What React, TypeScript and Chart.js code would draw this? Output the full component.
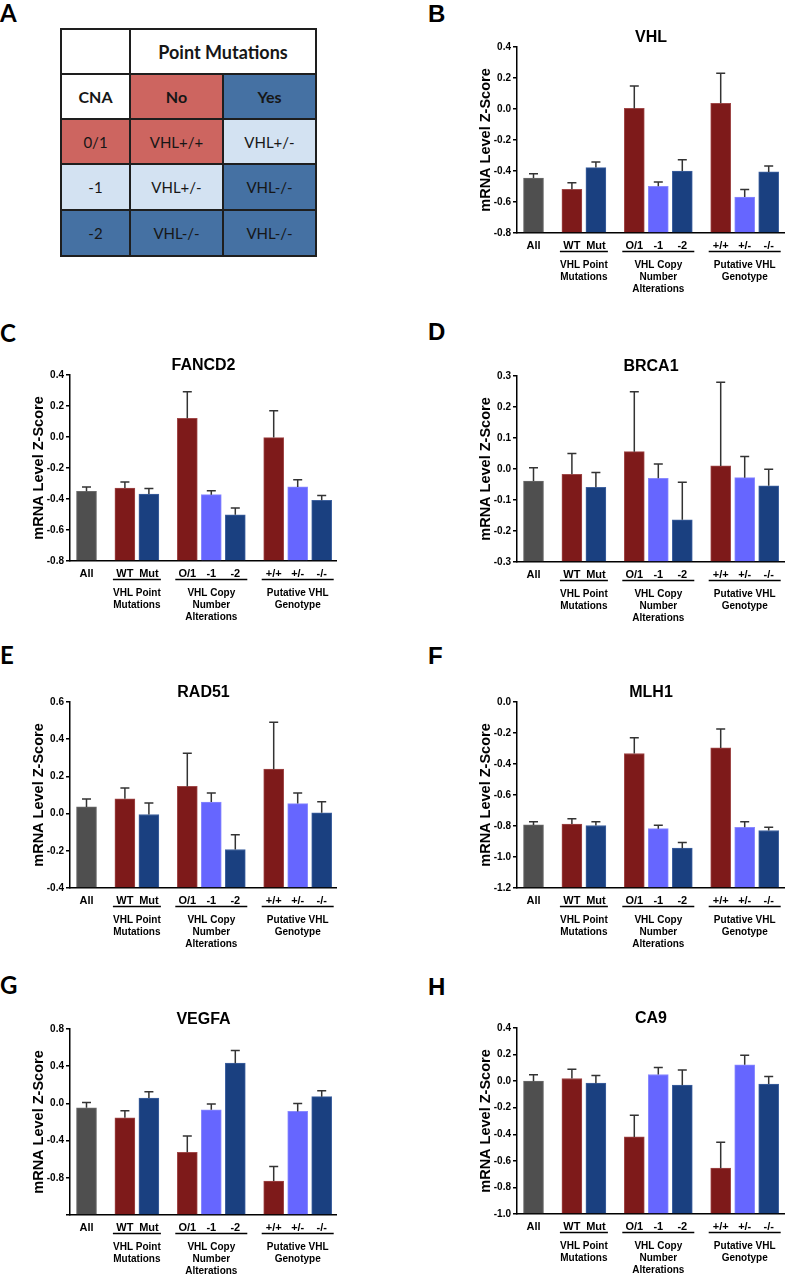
import React, { useEffect, useRef } from 'react';
import { Chart, registerables } from 'chart.js';

Chart.register(...registerables);

const FONT = "'Liberation Sans', Arial, Helvetica, sans-serif";
const TABLE_FONT = "Lato, 'Open Sans', sans-serif";

// ---------- data ----------
const CATEGORIES = ['All', 'WT', 'Mut', 'O/1', '-1', '-2', '+/+', '+/-', '-/-'];
const CATEGORY_GROUP = [0, 1, 1, 2, 2, 2, 3, 3, 3];
const GROUP_LABELS = [[], ['VHL Point', 'Mutations'], ['VHL Copy', 'Number', 'Alterations'], ['Putative VHL', 'Genotype']];
const BAR_COLORS = ['#4f4f4f', '#7e1a1a', '#1a4080', '#7e1a1a', '#6666ff', '#1a4080', '#7e1a1a', '#6666ff', '#1a4080'];
const BAR_EDGES = ['#6a6a6a', '#a04848', '#3f62a0', '#a04848', '#8a8aff', '#3f62a0', '#a04848', '#8a8aff', '#3f62a0'];
const Y_TITLE = 'mRNA Level Z-Score';

const VHL_MEAN = [-0.445, -0.518, -0.378, 0.004, -0.499, -0.40, 0.037, -0.568, -0.406];
const VHL_ERR = [0.028, 0.043, 0.036, 0.144, 0.028, 0.073, 0.193, 0.048, 0.038];
const FANCD2_MEAN = [-0.35, -0.329, -0.368, 0.121, -0.372, -0.502, -0.004, -0.322, -0.408];
const FANCD2_ERR = [0.028, 0.039, 0.035, 0.171, 0.026, 0.044, 0.173, 0.047, 0.030];
const BRCA1_MEAN = [-0.039, -0.017, -0.059, 0.056, -0.030, -0.164, 0.010, -0.028, -0.054];
const BRCA1_ERR = [0.043, 0.067, 0.048, 0.193, 0.046, 0.121, 0.270, 0.068, 0.053];
const RAD51_MEAN = [0.036, 0.080, -0.005, 0.146, 0.062, -0.193, 0.239, 0.054, 0.004];
const RAD51_ERR = [0.043, 0.058, 0.062, 0.179, 0.049, 0.079, 0.252, 0.057, 0.060];
const MLH1_MEAN = [-0.793, -0.787, -0.797, -0.332, -0.817, -0.943, -0.296, -0.808, -0.829];
const MLH1_ERR = [0.021, 0.033, 0.025, 0.101, 0.022, 0.036, 0.122, 0.036, 0.021];
const VEGFA_MEAN = [-0.047, -0.154, 0.057, -0.526, -0.068, 0.433, -0.834, -0.086, 0.072];
const VEGFA_ERR = [0.058, 0.075, 0.068, 0.175, 0.061, 0.136, 0.156, 0.086, 0.064];
const CA9_MEAN = [0.0, 0.02, -0.015, -0.42, 0.05, -0.03, -0.655, 0.123, -0.022];
const CA9_ERR = [0.048, 0.07, 0.058, 0.163, 0.052, 0.113, 0.195, 0.072, 0.057];

const TABLE_ROWS = [
  ['', 'Point Mutations'],
  ['CNA', 'No', 'Yes'],
  ['0/1', 'VHL+/+', 'VHL+/-'],
  ['-1', 'VHL+/-', 'VHL-/-'],
  ['-2', 'VHL-/-', 'VHL-/-'],
];

// ---------- layout ----------
const RED = '#cd6560';
const BLUE = '#4571a3';
const LIGHT = '#d3e2f2';
const TABLE_COLORS = [
  ['#ffffff', '#ffffff'],
  ['#ffffff', RED, BLUE],
  [RED, RED, LIGHT],
  [LIGHT, LIGHT, BLUE],
  [BLUE, BLUE, BLUE],
];

const GROUP_GAP = 1.6;
const PX_PER_UNIT = 24;
const FIRST_OFFSET_PX = 16.5;
const LEFT = 70;
const TOP = 40;
const PLOT_H = 186;
const BOTTOM = 70;

function categoryPositions(): number[] {
  const out: number[] = [];
  let x = 0;
  CATEGORIES.forEach((_, i) => {
    if (i > 0) x += CATEGORY_GROUP[i] !== CATEGORY_GROUP[i - 1] ? GROUP_GAP : 1;
    out.push(x);
  });
  return out;
}

type Spec = {
  title: string;
  mean: number[];
  err: number[];
  min: number;
  max: number;
  step: number;
  hideMin?: boolean;
  left: number;
  plotTop: number;
  plotW: number;
};

const PANELS: Spec[] = [
  { title: 'VHL', mean: VHL_MEAN, err: VHL_ERR, min: -0.8, max: 0.4, step: 0.2, left: 447, plotTop: 47, plotW: 268 },
  { title: 'FANCD2', mean: FANCD2_MEAN, err: FANCD2_ERR, min: -0.8, max: 0.4, step: 0.2, left: 0, plotTop: 375, plotW: 267 },
  { title: 'BRCA1', mean: BRCA1_MEAN, err: BRCA1_ERR, min: -0.3, max: 0.3, step: 0.1, left: 447, plotTop: 376, plotW: 268 },
  { title: 'RAD51', mean: RAD51_MEAN, err: RAD51_ERR, min: -0.4, max: 0.6, step: 0.2, left: 0, plotTop: 702, plotW: 267 },
  { title: 'MLH1', mean: MLH1_MEAN, err: MLH1_ERR, min: -1.2, max: 0.0, step: 0.2, left: 447, plotTop: 702, plotW: 268 },
  { title: 'VEGFA', mean: VEGFA_MEAN, err: VEGFA_ERR, min: -1.2, max: 0.8, step: 0.4, hideMin: true, left: 0, plotTop: 1029, plotW: 267 },
  { title: 'CA9', mean: CA9_MEAN, err: CA9_ERR, min: -1.0, max: 0.4, step: 0.2, left: 447, plotTop: 1028, plotW: 268 },
];

const LETTERS = [
  { t: 'A', x: 0, y: 1, f: TABLE_FONT },
  { t: 'B', x: 428, y: 2, f: FONT },
  { t: 'C', x: 0, y: 321, f: TABLE_FONT },
  { t: 'D', x: 428, y: 320, f: FONT },
  { t: 'E', x: 0, y: 643, f: TABLE_FONT },
  { t: 'F', x: 428, y: 644, f: FONT },
  { t: 'G', x: 0, y: 973, f: TABLE_FONT },
  { t: 'H', x: 428, y: 975, f: FONT },
];

function fmt(v: number) {
  return Math.abs(v) < 1e-9 ? '0.0' : v.toFixed(1);
}

function BarPanel({ spec }: { spec: Spec }) {
  const ref = useRef<HTMLCanvasElement>(null);
  useEffect(() => {
    const positions = categoryPositions();
    const xMin = -FIRST_OFFSET_PX / PX_PER_UNIT;
    const xMax = xMin + spec.plotW / PX_PER_UNIT;

    const decor = {
      id: 'decor',
      afterDatasetsDraw(chart: any) {
        const { ctx, scales } = chart;
        const x = scales.x;
        const y = scales.y;
        ctx.save();
        ctx.strokeStyle = '#333333';
        ctx.lineWidth = 1.5;
        positions.forEach((p, i) => {
          const px = x.getPixelForValue(p);
          const y0 = y.getPixelForValue(spec.mean[i]);
          const y1 = y.getPixelForValue(spec.mean[i] + spec.err[i]);
          ctx.beginPath();
          ctx.moveTo(px, y0);
          ctx.lineTo(px, y1);
          ctx.moveTo(px - 4.5, y1);
          ctx.lineTo(px + 4.5, y1);
          ctx.stroke();
        });
        ctx.restore();
      },
      afterDraw(chart: any) {
        const { ctx, chartArea, scales } = chart;
        const x = scales.x;
        ctx.save();
        ctx.fillStyle = '#000';
        // title
        ctx.font = `bold 16px ${FONT}`;
        ctx.textAlign = 'center';
        ctx.textBaseline = 'alphabetic';
        ctx.fillText(spec.title, (chartArea.left + chartArea.right) / 2, chartArea.top - 5);
        // y title
        ctx.save();
        ctx.translate(chartArea.left - 31, (chartArea.top + chartArea.bottom) / 2);
        ctx.rotate(-Math.PI / 2);
        ctx.font = `bold 14.5px ${FONT}`;
        ctx.textBaseline = 'middle';
        ctx.fillText(Y_TITLE, 0, 0);
        ctx.restore();
        // category labels
        ctx.font = `bold 11px ${FONT}`;
        ctx.textBaseline = 'alphabetic';
        positions.forEach((p, i) => {
          ctx.fillText(CATEGORIES[i], x.getPixelForValue(p), chartArea.bottom + 16);
        });
        // groups
        ctx.strokeStyle = '#000';
        ctx.lineWidth = 1.5;
        ctx.font = `bold 10px ${FONT}`;
        ctx.textBaseline = 'middle';
        GROUP_LABELS.forEach((lines, g) => {
          if (!lines.length) return;
          const idx = CATEGORY_GROUP.map((gg, i) => (gg === g ? i : -1)).filter((i) => i >= 0);
          const l = x.getPixelForValue(positions[idx[0]]) - 12;
          const r = x.getPixelForValue(positions[idx[idx.length - 1]]) + 12;
          const ly = chartArea.bottom + 18.5;
          ctx.beginPath();
          ctx.moveTo(l, ly);
          ctx.lineTo(r, ly);
          ctx.stroke();
          lines.forEach((t, k) => {
            ctx.fillText(t, (l + r) / 2, chartArea.bottom + 32 + k * 12);
          });
        });
        ctx.restore();
      },
    };

    const chart = new Chart(ref.current as HTMLCanvasElement, {
      type: 'bar',
      data: {
        datasets: [
          {
            data: positions.map((p, i) => ({ x: p, y: spec.mean[i] })),
            backgroundColor: BAR_COLORS,
            borderColor: BAR_EDGES,
            borderWidth: 1,
            barThickness: 20,
            base: spec.min,
          } as any,
        ],
      },
      options: {
        responsive: false,
        animation: false,
        layout: { padding: { top: TOP, left: 0, right: 0, bottom: 0 } },
        plugins: { legend: { display: false }, tooltip: { enabled: false }, title: { display: false } },
        scales: {
          x: {
            type: 'linear',
            offset: false,
            min: xMin,
            max: xMax,
            afterFit: (s: any) => {
              s.height = BOTTOM;
            },
            grid: { display: false },
            border: { display: true, color: '#000', width: 1.5 },
            ticks: { display: false },
          },
          y: {
            min: spec.min,
            max: spec.max,
            afterFit: (s: any) => {
              s.width = LEFT;
            },
            grid: { drawOnChartArea: false, drawTicks: true, tickLength: 4, color: '#000', lineWidth: 1.5 },
            border: { display: true, color: '#000', width: 1.5 },
            ticks: {
              stepSize: spec.step,
              padding: 2,
              color: '#000',
              font: { family: FONT, size: 10, weight: 'bold' },
              callback: (v: any) => (spec.hideMin && Math.abs(v - spec.min) < 1e-9 ? '' : fmt(Number(v))),
            },
          },
        },
      } as any,
      plugins: [decor],
    });
    return () => chart.destroy();
  }, [spec]);

  const w = LEFT + spec.plotW;
  const h = TOP + PLOT_H + BOTTOM;
  return (
    <canvas
      ref={ref}
      width={w}
      height={h}
      style={{ position: 'absolute', left: spec.left, top: spec.plotTop - TOP, width: w, height: h }}
    />
  );
}

function CnaTable() {
  const cells: React.ReactNode[] = [];
  TABLE_ROWS.forEach((row, r) => {
    row.forEach((text, c) => {
      const bold = r < 2;
      const isHeader = r === 0 && c === 1;
      cells.push(
        <div
          key={`${r}-${c}`}
          style={{
            gridColumn: isHeader ? 'span 2' : undefined,
            background: TABLE_COLORS[r][c],
            display: 'flex',
            alignItems: 'center',
            justifyContent: 'center',
            fontFamily: TABLE_FONT,
            fontSize: isHeader ? 18 : bold ? 16 : 15,
            fontWeight: bold ? 700 : 400,
            color: '#161616',
          }}
        >
          {text}
        </div>
      );
    });
  });
  return (
    <div
      style={{
        position: 'absolute',
        left: 60,
        top: 28,
        display: 'grid',
        gridTemplateColumns: '67px 91px 91px',
        gridTemplateRows: '43px 43px 43px 44px 44px',
        gap: 2,
        padding: 2,
        background: '#1e1e1e',
      }}
    >
      {cells}
    </div>
  );
}

export default function App() {
  return (
    <div
      style={{
        position: 'absolute',
        left: 0,
        top: 0,
        width: 785,
        height: 1274,
        overflow: 'hidden',
        background: '#fff',
      }}
    >
      {LETTERS.map((l) => (
        <div
          key={l.t}
          style={{
            position: 'absolute',
            left: l.x,
            top: l.y,
            fontFamily: l.f,
            fontWeight: 700,
            fontSize: 24,
            lineHeight: '24px',
            color: '#000',
          }}
        >
          {l.t}
        </div>
      ))}
      <CnaTable />
      {PANELS.map((p) => (
        <BarPanel key={p.title} spec={p} />
      ))}
    </div>
  );
}
